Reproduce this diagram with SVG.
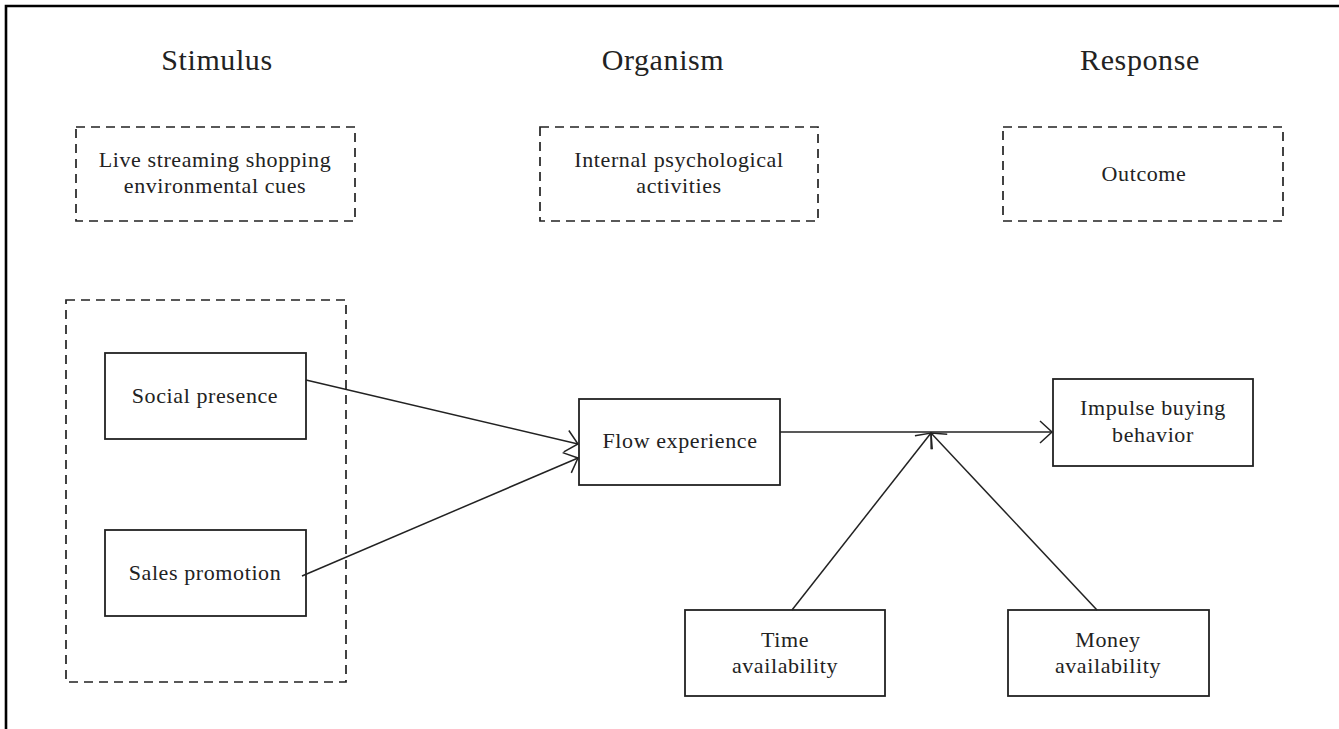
<svg xmlns="http://www.w3.org/2000/svg" width="1339" height="729" viewBox="0 0 1339 729">
  <style>
    text { font-family: "Liberation Serif", "Times New Roman", serif; fill: #222; text-anchor: middle; }
    .head { font-size: 30px; letter-spacing: 0.6px; }
    .lbl { font-size: 22px; letter-spacing: 0.6px; }
    .dash { fill: none; stroke: #222; stroke-width: 1.7; stroke-dasharray: 9 6; }
    .box { fill: #fff; stroke: #222; stroke-width: 1.8; }
    .conn { fill: none; stroke: #222; stroke-width: 1.5; marker-end: url(#open); }
  </style>
  <defs>
    <marker id="open" markerUnits="userSpaceOnUse" markerWidth="30" markerHeight="30" viewBox="-15 -15 30 30" refX="0" refY="0" orient="auto">
      <path d="M -12 -11 L 0 0 L -12 11" fill="none" stroke="#222" stroke-width="1.5"/>
    </marker>
  </defs>
  <rect width="1339" height="729" fill="#fff"/>
  <path id="frame" d="M6,729 V6 H1339" fill="none" stroke="#000" stroke-width="2.6"/>

  <g id="heading-stimulus"><text class="head" x="217" y="70">Stimulus</text></g>
  <g id="heading-organism"><text class="head" x="663" y="70">Organism</text></g>
  <g id="heading-response"><text class="head" x="1140" y="70">Response</text></g>

  <g id="cues">
    <rect class="dash" x="76" y="127" width="279" height="94"/>
    <text class="lbl" x="215" y="167">Live streaming shopping</text>
    <text class="lbl" x="215" y="193">environmental cues</text>
  </g>
  <g id="internal">
    <rect class="dash" x="540" y="127" width="278" height="94"/>
    <text class="lbl" x="679" y="167">Internal psychological</text>
    <text class="lbl" x="679" y="193">activities</text>
  </g>
  <g id="outcome">
    <rect class="dash" x="1003" y="127" width="280" height="94"/>
    <text class="lbl" x="1144" y="181">Outcome</text>
  </g>

  <g id="stimulus-group">
    <rect class="dash" x="66" y="300" width="280" height="382"/>
  </g>
  <g id="social-presence">
    <rect class="box" x="105" y="353" width="201" height="86"/>
    <text class="lbl" x="205" y="403">Social presence</text>
  </g>
  <g id="sales-promotion">
    <rect class="box" x="105" y="530" width="201" height="86"/>
    <text class="lbl" x="205" y="580">Sales promotion</text>
  </g>
  <g id="flow-experience">
    <rect class="box" x="579" y="399" width="201" height="86"/>
    <text class="lbl" x="680" y="448">Flow experience</text>
  </g>
  <g id="impulse-buying">
    <rect class="box" x="1053" y="379" width="200" height="87"/>
    <text class="lbl" x="1153" y="415">Impulse buying</text>
    <text class="lbl" x="1153" y="442">behavior</text>
  </g>
  <g id="time-availability">
    <rect class="box" x="685" y="610" width="200" height="86"/>
    <text class="lbl" x="785" y="647">Time</text>
    <text class="lbl" x="785" y="673">availability</text>
  </g>
  <g id="money-availability">
    <rect class="box" x="1008" y="610" width="201" height="86"/>
    <text class="lbl" x="1108" y="647">Money</text>
    <text class="lbl" x="1108" y="673">availability</text>
  </g>

  <g id="connectors">
    <path class="conn" d="M306,380 L578,444"/>
    <path class="conn" d="M302,576 L578,458"/>
    <path class="conn" d="M780,432 L1052,432"/>
    <path class="conn" d="M792,610 L931,433"/>
    <path class="conn" d="M1097,610 L931,433"/>
  </g>
</svg>
